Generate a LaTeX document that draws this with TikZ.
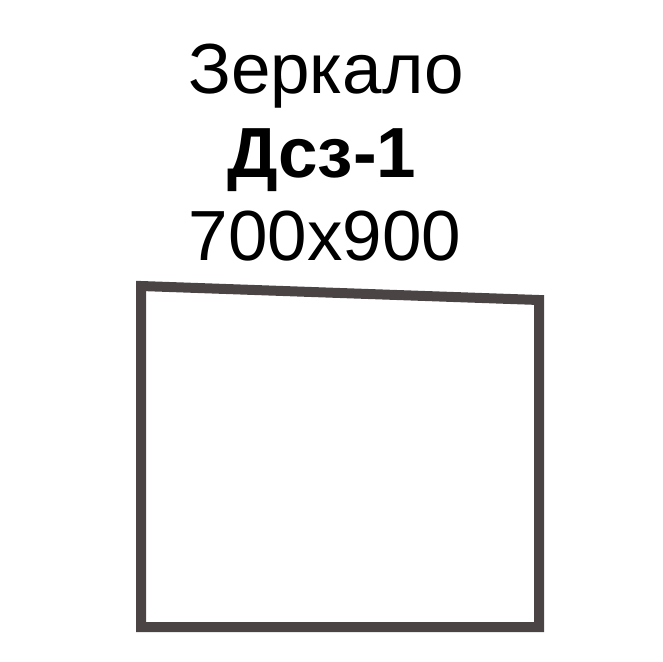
\documentclass[tikz,border=0pt]{standalone}
\usepackage{fontspec}
\setmainfont{Liberation Sans}
\definecolor{framegray}{RGB}{74,68,69}

\begin{document}
\begin{tikzpicture} [x=1pt, y=-1pt, caption/.style={anchor=base, inner sep=0pt, font=\fontsize{71}{80}\selectfont}, mirror/.style={draw=framegray, line width=10pt, line join=miter}]
	\useasboundingbox (0,0) rectangle (662,662);

	\node[caption] (name) at (326,93) {Зеркало};
	\node[caption, font=\fontsize{71}{80}\selectfont\bfseries] (code) at (322,177) {Дсз-1};
	\node[caption] (size) at (325,260) {700x900};

	\coordinate (tl) at (141,286);
	\coordinate (tr) at (539,300);
	\coordinate (br) at (539,627);
	\coordinate (bl) at (141,627);
	\draw[mirror] (tl) -- (tr) -- (br) -- (bl) -- cycle;
\end{tikzpicture}
\end{document}
